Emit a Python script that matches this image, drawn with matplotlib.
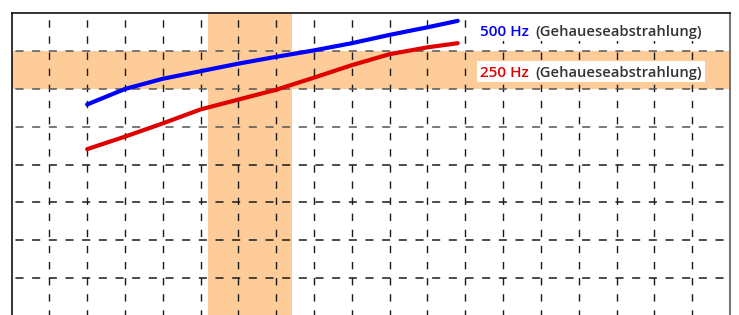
import matplotlib.pyplot as plt
from matplotlib.patches import Rectangle

plt.rcParams['font.family'] = ['Open Sans', 'DejaVu Sans']
plt.rcParams['lines.scale_dashes'] = False

# grid position (in grid units) of each reading
x_pos = [2, 3, 4, 5, 6, 7, 8, 9, 10, 11, 11.8]
# 500 Hz (Gehaeuseabstrahlung)
y_500 = [5.59, 6.00, 6.27, 6.47, 6.67, 6.85, 7.02, 7.21, 7.43, 7.63, 7.80]
# 250 Hz (Gehaeuseabstrahlung)
y_250 = [4.41, 4.74, 5.09, 5.46, 5.72, 5.98, 6.30, 6.63, 6.92, 7.10, 7.21]

labels = ['500 Hz', '250 Hz']
label_note = '(Gehaueseabstrahlung)'
colors = ['#0000ff', '#e00000']

band_x = (5.2, 7.41)
band_y = (6, 7)
n_cols = 19
n_rows = 8

PEACH = '#fdcc99'


def main():
    fig = plt.figure(figsize=(7.39, 3.15), dpi=100)
    ax = fig.add_axes([11.5 / 739, -1 / 315, (730 - 11.5) / 739, (316 - 13.3) / 315])
    ax.set_xlim(0, n_cols)
    ax.set_ylim(0, n_rows)
    ax.set_xticks([])
    ax.set_yticks([])

    # shaded bands
    ax.axvspan(*band_x, color=PEACH, lw=0, zorder=0)
    ax.axhspan(*band_y, color=PEACH, lw=0, zorder=0)

    # dashed grid
    for i in range(1, n_cols):
        ax.plot([i, i], [n_rows, 0], color='#1a1a1a', lw=1.0,
                linestyle=(6.7, (5.3, 6.3)), zorder=1)
    for j in range(1, n_rows):
        c = '#555555' if j >= 5 else '#1a1a1a'
        ax.plot([0, n_cols], [j, j], color=c, lw=1.1,
                linestyle=(9.5, (5.8, 6.2)), zorder=1)

    # curves
    ax.plot(x_pos, y_500, color=colors[0], lw=3.0, solid_capstyle='round', zorder=3)
    ax.plot(x_pos, y_250, color=colors[1], lw=3.0, solid_capstyle='round', zorder=3)

    # labels on white boxes
    for k, (y0, y1, base) in enumerate([(7.27, 7.85, 7.39), (6.18, 6.73, 6.32)]):
        ax.add_patch(Rectangle((12.32, y0), 6.01, y1 - y0, facecolor='white',
                               edgecolor='none', zorder=4))
        ax.text(12.38, base, labels[k], color=colors[k], fontsize=11,
                fontweight='semibold', va='baseline', ha='left', zorder=5)
        ax.text(13.86, base, label_note, color='#333333', fontsize=10.6,
                fontweight='semibold', va='baseline', ha='left', zorder=5)

    for side in ['left', 'top']:
        ax.spines[side].set_color('#111111')
        ax.spines[side].set_linewidth(1.2)
    ax.spines['right'].set_color('#777777')
    ax.spines['right'].set_linewidth(1.5)
    ax.spines['bottom'].set_visible(False)

    fig.savefig('out.png', dpi=100)


if __name__ == "__main__":
    main()
